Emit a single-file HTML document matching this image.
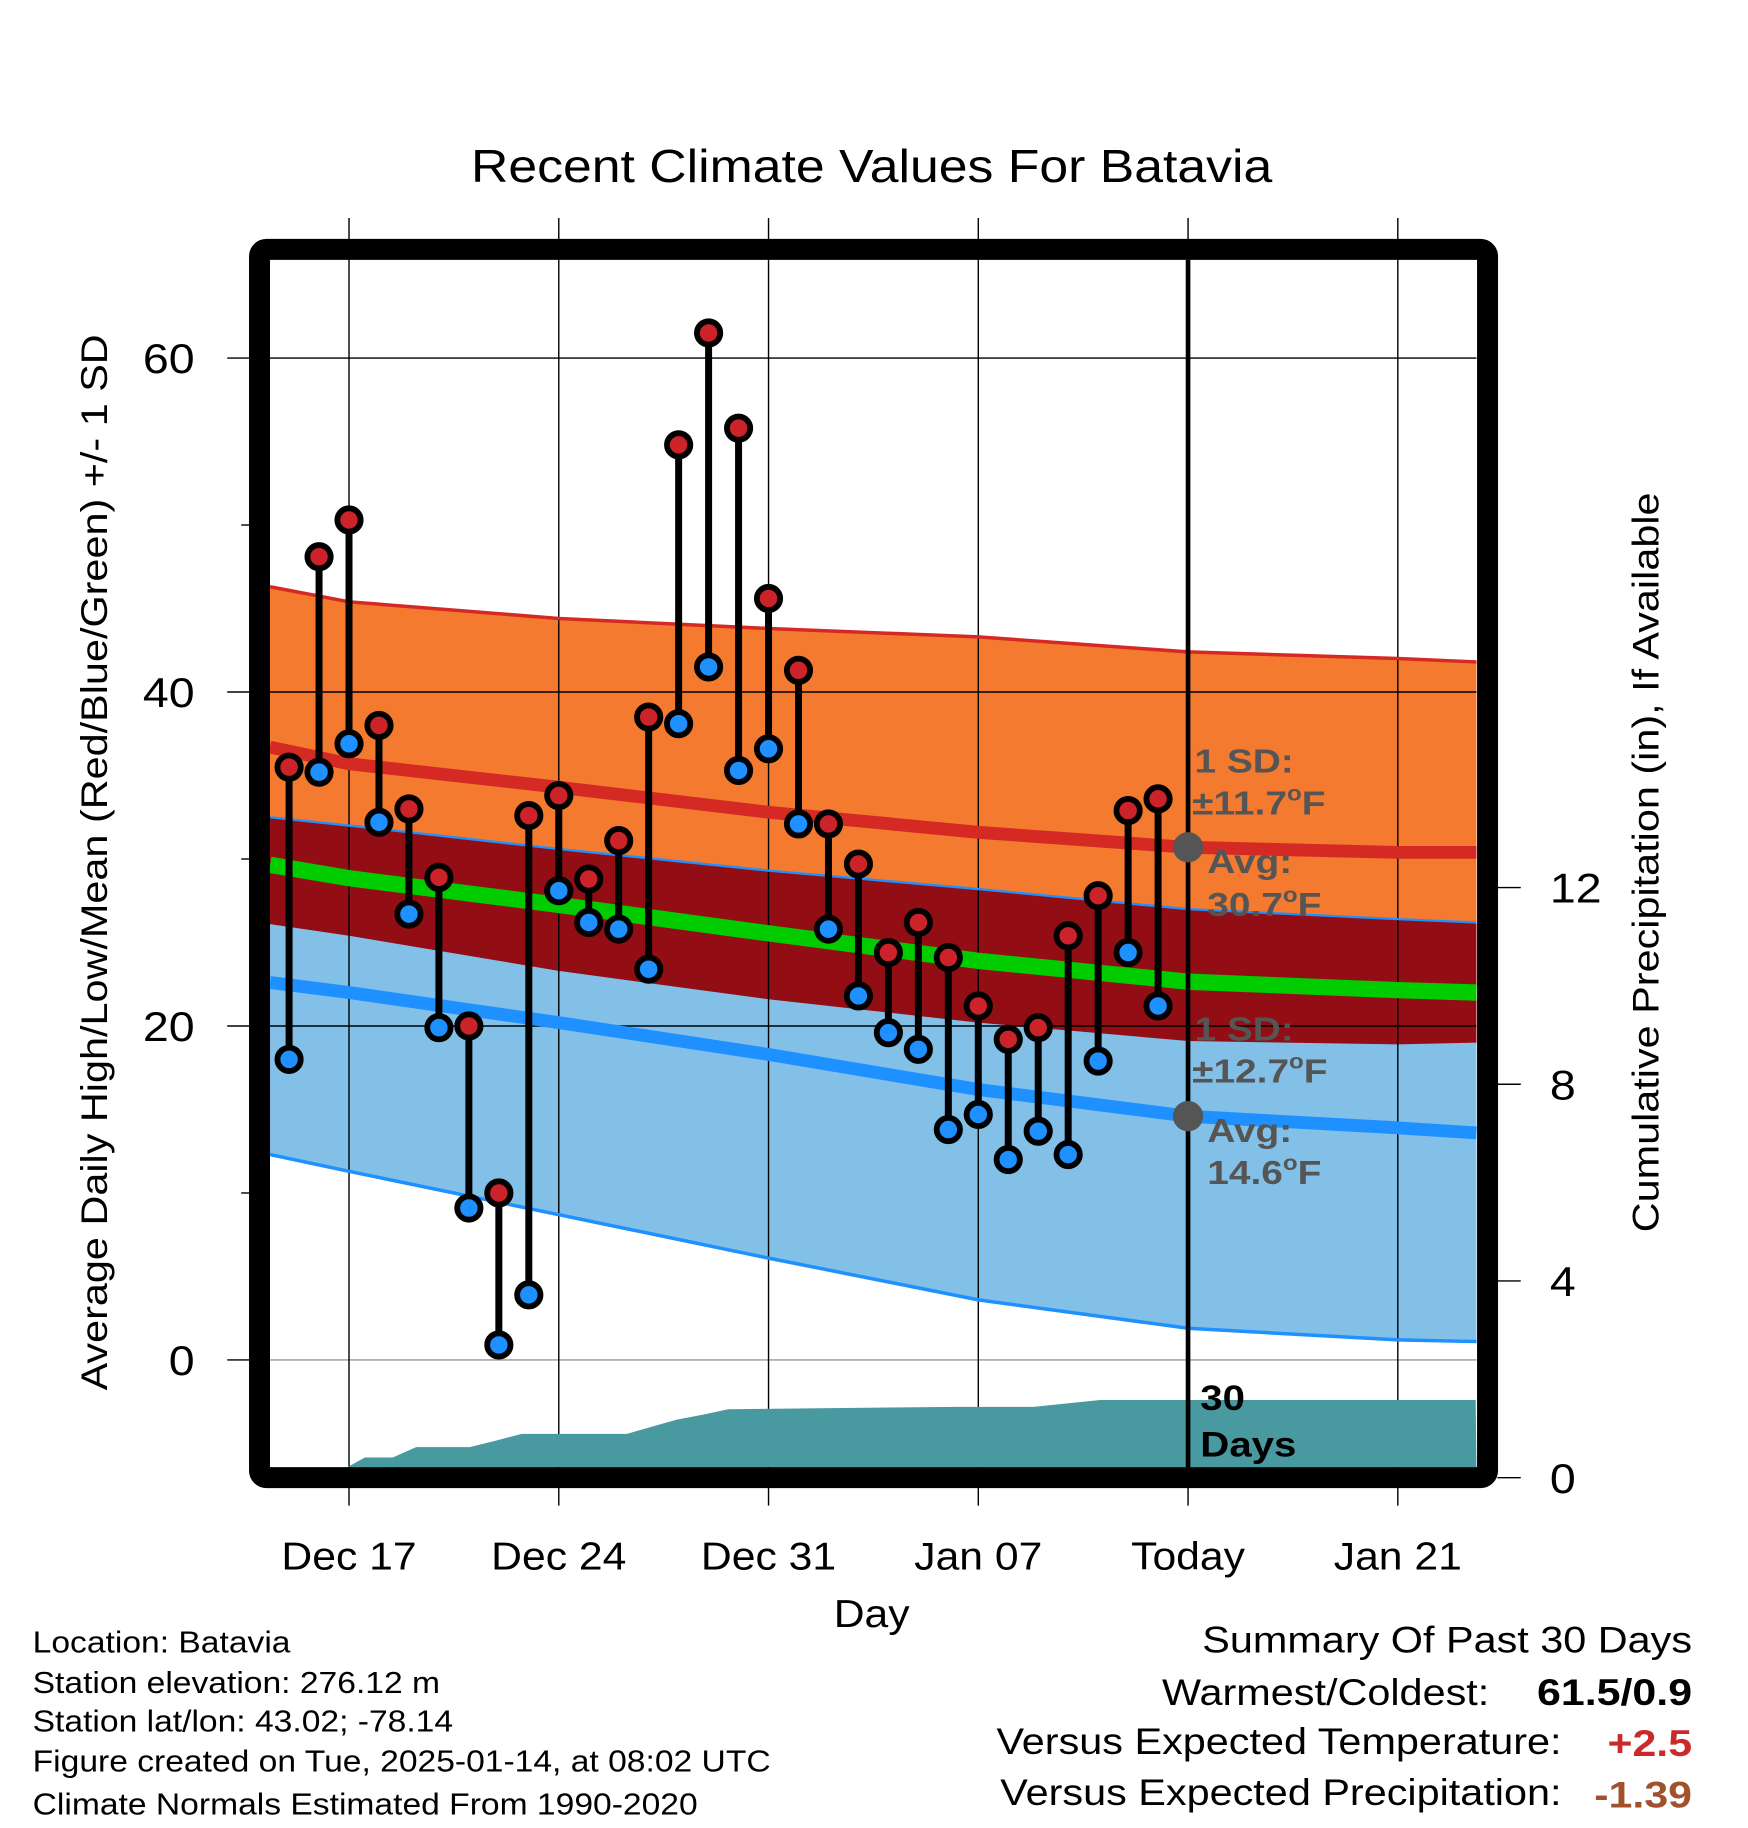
<!DOCTYPE html>
<html><head><meta charset="utf-8"><style>
html,body{margin:0;padding:0;background:#fff;}
svg{display:block;font-family:"Liberation Sans",Arial,sans-serif;}
</style></head><body>
<svg id="chart" width="1748" height="1828" viewBox="0 0 1500 1568.6" xmlns="http://www.w3.org/2000/svg">
<g id="bands"></g>
<g id="grid"></g>
<g id="precip"></g>
<g id="lines"></g>
<g id="marks"></g>
<g id="frame"></g>
<g id="texts"></g>
</svg>
<script>
// ---- data ----
const dayLabels = ["Dec 17","Dec 24","Dec 31","Jan 07","Today","Jan 21"];
const dayLabelIdx = [0,7,14,21,28,35];
const yTicks = [0,20,40,60];
const yMinor = [10,30,50];
const pTicks = [0,4,8,12];
const obsDays = [-2,-1,0,1,2,3,4,5,6,7,8,9,10,11,12,13,14,15,16,17,18,19,20,21,22,23,24,25,26,27];
const highs = [35.5,48.1,50.3,38.0,33.0,28.9,20.0,10.0,32.6,33.8,28.8,31.1,38.5,54.8,61.5,55.8,45.6,41.3,32.1,29.7,24.4,26.2,24.1,21.2,19.2,19.9,25.4,27.8,32.9,33.6];
const lows = [18.0,35.2,36.9,32.2,26.7,19.9,9.1,0.9,3.9,28.1,26.2,25.8,23.4,38.1,41.5,35.3,36.6,32.1,25.8,21.8,19.6,18.6,13.8,14.7,12.0,13.7,12.3,17.9,24.4,21.2];
const normDays = [-3,0,7,14,21,28,35,38];
const highUpper = [46.3,45.4,44.4,43.8,43.3,42.4,42.0,41.8];
const highAvg = [36.7,35.7,34.3,32.8,31.6,30.7,30.4,30.4];
const highLower = [26.1,25.4,23.3,21.6,20.2,19.1,18.9,19.0];
const lowUpper = [32.5,32.0,30.6,29.3,28.2,27.0,26.4,26.2];
const lowAvg = [22.6,22.0,20.2,18.3,16.2,14.6,13.9,13.6];
const lowLower = [12.3,11.3,8.7,6.1,3.6,1.9,1.2,1.1];
const precipDays = [-0.05,0.53,1.46,2.24,4.03,4.89,5.76,9.27,10.94,11.8,12.66,20.28,22.84,25.07,37.6];
const precipVals = [0.2,0.41,0.41,0.62,0.62,0.75,0.89,0.89,1.18,1.28,1.39,1.44,1.44,1.58,1.58];

// ---- axes ----
const L=231.7,R=1267,T=223,B=1259;
const X=d=>299.5+25.714*d;
const Y=v=>1167-14.33*v;
const P=v=>1268-42.2*v;
const NS="http://www.w3.org/2000/svg";
function mk(tag,parent,attrs){const e=document.createElementNS(NS,tag);for(const k in attrs)e.setAttribute(k,attrs[k]);document.getElementById(parent).appendChild(e);return e;}
function clipX(d){return Math.min(R,Math.max(L,X(d)));}
function pts(arr){return normDays.map((d,i)=>clipX(d).toFixed(1)+","+Y(arr[i]).toFixed(1));}
function band(up,lo,fill,name){
  const p=pts(up).concat(pts(lo).reverse()).join(" ");
  const e=mk("polygon","bands",{points:p,fill:fill});
  
  
}
band(highUpper,highLower,"#f47a2f","high-sd-band");
band(lowUpper,lowLower,"#82c0e8","low-sd-band");
band(lowUpper,highLower,"#930d14","overlap-band");

yTicks.forEach(v=>{
  const e=mk("line","grid",{x1:L,x2:R,y1:Y(v),y2:Y(v),stroke:v===0?"#999":"#000","stroke-width":1.2});
  
  
  const t=mk("line","grid",{x1:195,x2:214,y1:Y(v),y2:Y(v),stroke:"#000","stroke-width":1.2});
  
  
  const lb=mk("text","texts",{x:167,y:Y(v)+13,"font-size":36,"text-anchor":"end","class":"w"});lb.textContent=v;
  
  
});
yMinor.forEach(v=>{
  const t=mk("line","grid",{x1:207,x2:214,y1:Y(v),y2:Y(v),stroke:"#000","stroke-width":1.2});
  
  
});
pTicks.forEach(v=>{
  const t=mk("line","grid",{x1:1285,x2:1305,y1:P(v),y2:P(v),stroke:"#000","stroke-width":1.2});
  
  
  const lb=mk("text","texts",{x:1330,y:P(v)+13,"font-size":36,"class":"w"});lb.textContent=v;
  
  
});
dayLabelIdx.forEach((d,i)=>{
  const e=mk("line","grid",{x1:X(d),x2:X(d),y1:187,y2:1292,stroke:"#000","stroke-width":1.2});
  
  
  const lb=mk("text","texts",{x:X(d),y:1347,"font-size":33,"text-anchor":"middle","class":"w"});lb.textContent=dayLabels[i];
  
  
});

{
  let p=precipDays.map((d,i)=>clipX(d).toFixed(1)+","+Math.min(B,P(precipVals[i])).toFixed(1));
  p.push(R+","+B); p.push(clipX(precipDays[0]).toFixed(1)+","+B);
  const e=mk("polygon","precip",{points:p.join(" "),fill:"#4899a0"});
  
  
}

function line(arr,color,w,name){
  const e=mk("polyline","lines",{points:pts(arr).join(" "),fill:"none",stroke:color,"stroke-width":w});
  
  
}
line(highUpper,"#d42a23",3,"high-upper-sd-line");
line(lowUpper,"#1e90ff",2,"low-upper-sd-line");
line(lowLower,"#1e90ff",3,"low-lower-sd-line");
line(highAvg,"#d42a23",11,"avg-high-line");
line(lowAvg,"#1e90ff",11,"avg-low-line");
line(highAvg.map((h,i)=>(h+lowAvg[i])/2),"#00cc00",14,"avg-mean-line");

{
  const e=mk("line","lines",{x1:X(28),x2:X(28),y1:T,y2:B,stroke:"#000","stroke-width":4});
  
  
  const d1=mk("circle","lines",{cx:X(28),cy:Y(highAvg[5]),r:13,fill:"#555"});
  
  
  const d2=mk("circle","lines",{cx:X(28),cy:Y(lowAvg[5]),r:13,fill:"#555"});
  
  
}

obsDays.forEach((d,i)=>{
  const s=mk("line","marks",{x1:X(d),x2:X(d),y1:Y(highs[i]),y2:Y(lows[i]),stroke:"#000","stroke-width":6});
  
  
});
obsDays.forEach((d,i)=>{
  const h=mk("circle","marks",{cx:X(d),cy:Y(highs[i]),r:10,fill:"#cc2229",stroke:"#000","stroke-width":5});
  
  
  const l=mk("circle","marks",{cx:X(d),cy:Y(lows[i]),r:10,fill:"#1e90ff",stroke:"#000","stroke-width":5});
  
  
});
</script>
<script>
(function(){
const NS="http://www.w3.org/2000/svg";
const svg=document.getElementById("frame");
const f=document.createElementNS(NS,"rect");
f.setAttribute("x",222.7);f.setAttribute("y",214);f.setAttribute("width",1053.8);f.setAttribute("height",1054);
f.setAttribute("rx",6);f.setAttribute("fill","none");f.setAttribute("stroke","#000");f.setAttribute("stroke-width",18);


svg.appendChild(f);
})();
</script>
<svg id="textsvg" style="position:absolute;left:0;top:0" width="1748" height="1828" viewBox="0 0 1500 1568.6" xmlns="http://www.w3.org/2000/svg" font-family="Liberation Sans, Arial, sans-serif">
<text class="w" x="748" y="156" font-size="40" text-anchor="middle">Recent Climate Values For Batavia</text>
<text class="w" transform="translate(92,740) rotate(-90)" font-size="32" text-anchor="middle">Average Daily High/Low/Mean (Red/Blue/Green) +/- 1 SD</text>
<text class="w" transform="translate(1423,740) rotate(-90)" font-size="32" text-anchor="middle">Cumulative Precipitation (in), If Available</text>
<text class="w" x="748" y="1396" font-size="33" text-anchor="middle">Day</text>
<g font-size="29" font-weight="bold" fill="#555">
<text class="b" x="1025" y="663">1 SD:</text>
<text class="b" x="1023" y="699">±11.7<tspan font-size="18" dy="-12">o</tspan><tspan dy="12">F</tspan></text>
<text class="b" x="1036" y="749">Avg:</text>
<text class="b" x="1036" y="786">30.7<tspan font-size="18" dy="-12">o</tspan><tspan dy="12">F</tspan></text>
<text class="b" x="1025" y="893">1 SD:</text>
<text class="b" x="1023" y="929">±12.7<tspan font-size="18" dy="-12">o</tspan><tspan dy="12">F</tspan></text>
<text class="b" x="1036" y="980">Avg:</text>
<text class="b" x="1036" y="1016">14.6<tspan font-size="18" dy="-12">o</tspan><tspan dy="12">F</tspan></text>
</g>
<text class="b" x="1030" y="1210" font-size="30" font-weight="bold">30</text>
<text class="b" x="1030" y="1250" font-size="30" font-weight="bold">Days</text>
<g font-size="26">
<text class="w" x="28" y="1418">Location: Batavia</text>
<text class="w" x="28" y="1453">Station elevation: 276.12 m</text>
<text class="w" x="28" y="1486">Station lat/lon: 43.02; -78.14</text>
<text class="w" x="28" y="1520">Figure created on Tue, 2025-01-14, at 08:02 UTC</text>
<text class="w" x="28" y="1557">Climate Normals Estimated From 1990-2020</text>
</g>
<g font-size="32">
<text class="w" x="1452" y="1418" text-anchor="end">Summary Of Past 30 Days</text>
<text class="w" x="1278" y="1463" text-anchor="end">Warmest/Coldest:</text>
<text class="b" x="1452" y="1463" text-anchor="end" font-weight="bold">61.5/0.9</text>
<text class="w" x="1340" y="1505" text-anchor="end">Versus Expected Temperature:</text>
<text class="b" x="1452" y="1507" text-anchor="end" font-weight="bold" fill="#cc2a2a">+2.5</text>
<text class="w" x="1340" y="1549" text-anchor="end">Versus Expected Precipitation:</text>
<text class="b" x="1452" y="1551" text-anchor="end" font-weight="bold" fill="#a0522d">-1.39</text>
</g>
</svg>
<script>
document.querySelectorAll("text.w").forEach(t=>{
  const w=t.getComputedTextLength();
  t.setAttribute("textLength",(w*1.11).toFixed(1));
  t.setAttribute("lengthAdjust","spacingAndGlyphs");
});
document.querySelectorAll("text.b").forEach(t=>{
  const w=t.getComputedTextLength();
  t.setAttribute("textLength",(w*1.15).toFixed(1));
  t.setAttribute("lengthAdjust","spacingAndGlyphs");
});
</script>
</body></html>
